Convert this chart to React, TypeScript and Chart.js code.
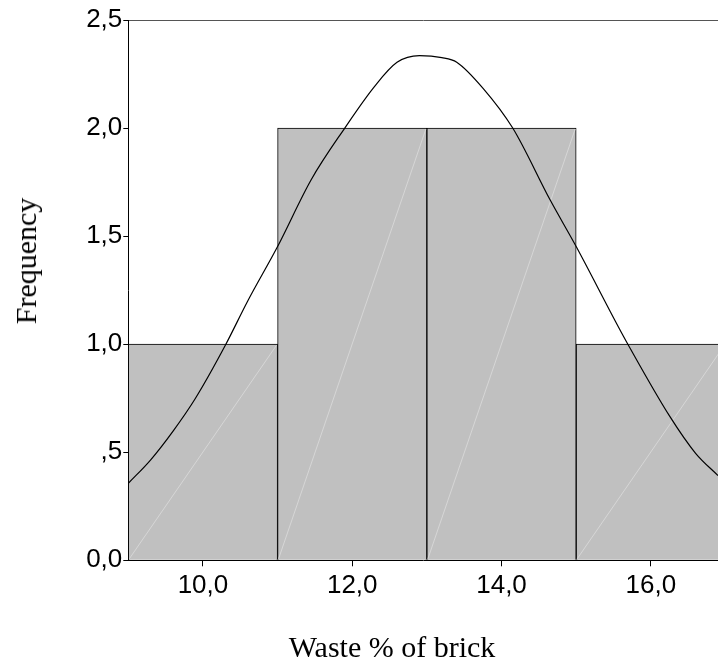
import React, { useEffect, useRef } from "react";
import { Chart, registerables } from "chart.js";

Chart.register(...registerables);

// Histogram bins (centres) and frequencies
const binCenters = [10, 12, 14, 16];
const frequencies = [1, 2, 2, 1];

// Normal curve
const curveX = [9.0, 9.3, 9.6, 9.9, 10.3, 10.6, 11.0, 11.45, 11.9, 12.3, 12.6, 12.9, 13.2, 13.4, 13.75, 14.15, 14.65, 15.0, 15.55, 15.7, 16.25, 16.6, 16.9];
const curveY = [0.356, 0.465, 0.598, 0.75, 0.995, 1.2, 1.452, 1.761, 2.0, 2.193, 2.304, 2.335, 2.326, 2.305, 2.185, 2.0, 1.668, 1.452, 1.09, 0.995, 0.668, 0.495, 0.392];

// Axis ticks
const xTickValues = [10, 12, 14, 16];
const xTickLabels = ["10,0", "12,0", "14,0", "16,0"];
const yTickValues = [0, 0.5, 1, 1.5, 2, 2.5];
const yTickLabels = ["0,0", ",5", "1,0", "1,5", "2,0", "2,5"];

const X_MIN = 9;
const X_MAX = 16.9;
const Y_MIN = 0;
const Y_MAX = 2.5;

const xTitle = "Waste % of brick";
const yTitle = "Frequency";

const SANS = "'Liberation Sans', Arial, Helvetica, sans-serif";
const SERIF = "'Liberation Serif', 'Times New Roman', Times, serif";

const diagonalPlugin = {
  id: "barDiagonals",
  afterDatasetDraw(chart: any, args: any) {
    const meta = args.meta;
    if (meta.type !== "bar") return;
    const { ctx, chartArea } = chart;
    ctx.save();
    ctx.beginPath();
    ctx.rect(chartArea.left, chartArea.top, chartArea.right - chartArea.left, chartArea.bottom - chartArea.top);
    ctx.clip();
    ctx.strokeStyle = "#d6d6d6";
    ctx.lineWidth = 1;
    meta.data.forEach((el: any) => {
      const p = el.getProps(["x", "y", "base", "width"], true);
      const left = p.x - p.width / 2;
      const right = p.x + p.width / 2;
      ctx.beginPath();
      ctx.moveTo(left + 1, p.base - 1);
      ctx.lineTo(right - 1, p.y + 1);
      ctx.stroke();
    });
    ctx.restore();
  },
};

export default function App() {
  const canvasRef = useRef<HTMLCanvasElement | null>(null);

  useEffect(() => {
    if (!canvasRef.current) return;
    const chart = new Chart(canvasRef.current, {
      type: "bar",
      data: {
        datasets: [
          {
            type: "line",
            data: curveX.map((x, i) => ({ x, y: curveY[i] })),
            borderColor: "#000",
            borderWidth: 1.2,
            pointRadius: 0,
            cubicInterpolationMode: "monotone",
            fill: false,
            order: 1,
          } as any,
          {
            type: "bar",
            data: binCenters.map((x, i) => ({ x, y: frequencies[i] })),
            backgroundColor: "#c0c0c0",
            borderColor: "#000",
            borderWidth: 1,
            barPercentage: 1,
            categoryPercentage: 1,
            order: 2,
          } as any,
        ],
      },
      options: {
        animation: false,
        responsive: true,
        maintainAspectRatio: false,
        layout: { padding: { top: 20, left: 0, right: 0, bottom: 0 } },
        plugins: {
          legend: { display: false },
          tooltip: { enabled: false },
        },
        scales: {
          x: {
            type: "linear",
            offset: false,
            min: X_MIN,
            max: X_MAX,
            afterBuildTicks: (s: any) => {
              s.ticks = xTickValues.map((value) => ({ value }));
            },
            afterFit: (s: any) => {
              s.height = 107.7;
            },
            ticks: {
              autoSkip: false,
              maxRotation: 0,
              color: "#000",
              padding: 4,
              font: { family: SANS, size: 26 },
              callback: (v: any) => {
                const i = xTickValues.indexOf(Number(v));
                return i >= 0 ? xTickLabels[i] : "";
              },
            },
            grid: {
              offset: false,
              drawOnChartArea: false,
              tickLength: 6,
              tickColor: "#000",
              color: "#000",
            },
            border: { color: "#000", width: 1 },
          },
          y: {
            type: "linear",
            min: Y_MIN,
            max: Y_MAX,
            afterBuildTicks: (s: any) => {
              s.ticks = yTickValues.map((value) => ({ value }));
            },
            afterFit: (s: any) => {
              s.width = 128.3;
            },
            ticks: {
              autoSkip: false,
              color: "#000",
              padding: 1,
              font: { family: SANS, size: 26 },
              callback: (v: any) => {
                const i = yTickValues.indexOf(Number(v));
                return i >= 0 ? yTickLabels[i] : "";
              },
            },
            grid: {
              drawOnChartArea: true,
              tickLength: 5,
              tickColor: "#000",
              color: (c: any) => (c.tick && c.tick.value === Y_MAX ? "#555555" : "rgba(0,0,0,0)"),
            },
            border: { color: "#000", width: 1 },
          },
        },
      } as any,
      plugins: [diagonalPlugin],
    });
    return () => chart.destroy();
  }, []);

  return (
    <div style={{ position: "absolute", left: 0, top: 0, width: 718, height: 668, background: "#fff", overflow: "hidden" }}>
      <canvas ref={canvasRef} style={{ display: "block", width: "718px", height: "668px" }} />
      <div
        style={{
          position: "absolute",
          left: 392,
          top: 647,
          transform: "translate(-50%, -50%)",
          fontFamily: SERIF,
          fontSize: 30,
          lineHeight: "30px",
          whiteSpace: "nowrap",
          color: "#000",
        }}
      >
        {xTitle}
      </div>
      <div
        style={{
          position: "absolute",
          left: 26,
          top: 261,
          transform: "translate(-50%, -50%) rotate(-90deg)",
          fontFamily: SERIF,
          fontSize: 30,
          lineHeight: "30px",
          whiteSpace: "nowrap",
          color: "#000",
        }}
      >
        {yTitle}
      </div>
    </div>
  );
}
